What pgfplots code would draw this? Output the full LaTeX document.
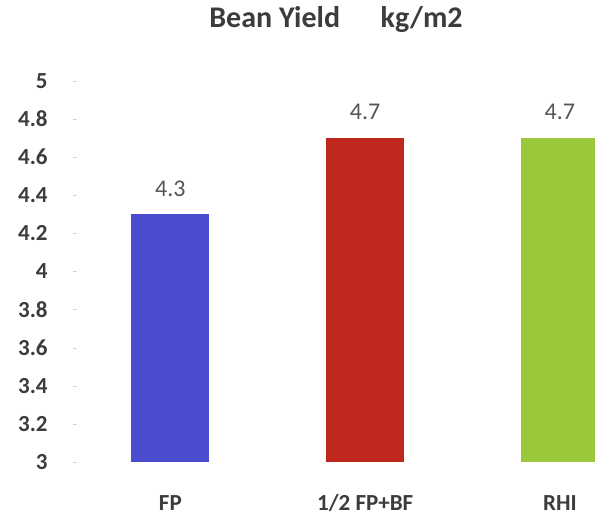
\documentclass[border=0pt]{standalone}
\usepackage{pgfplots}
\pgfplotsset{compat=1.18}
\usepackage{fontspec}
\setmainfont{Carlito}
\definecolor{cblue}{RGB}{76,76,208}
\definecolor{cred}{RGB}{190,40,30}
\definecolor{cgreen}{RGB}{154,200,58}
\definecolor{ctext}{RGB}{60,60,60}
\definecolor{cval}{RGB}{85,85,85}
\begin{document}
\begin{tikzpicture}
\begin{axis}[
  scale only axis,
  width=261pt, height=190.5pt,
  xmin=-0.5, xmax=2.18,
  ymin=3, ymax=5,
  /pgf/number format/assume math mode=true,
  ytick={3,3.2,...,5.01},
  yticklabels={3,3.2,3.4,3.6,3.8,4,4.2,4.4,4.6,4.8,5},
  xtick={0,1,2},
  xticklabels={FP,1/2 FP+BF,RHI},
  axis line style={draw=none},
  xtick style={draw=none},
  ytick style={draw=gray!35},
  ytick pos=left,
  major tick length=2pt,
  tick label style={font=\bfseries, text=ctext},
  yticklabel style={font=\fontsize{11.5}{13}\selectfont\bfseries, anchor=east, inner sep=0pt, xshift=-12.5pt},
  xticklabel style={font=\fontsize{11.5}{13}\selectfont\bfseries, anchor=center, inner sep=0pt, yshift=-18.5pt},
  ybar, bar width=39pt, bar shift=0pt,
  nodes near coords,
  every node near coord/.append style={font=\fontsize{12}{14}\selectfont, text=cval, anchor=center, yshift=13pt},
  title={Bean Yield\hspace{1.35em}kg/m2},
  title style={font=\fontsize{15}{17}\selectfont\bfseries, text=ctext, at={(0.5,1)}, anchor=center, inner sep=0pt, yshift=24.5pt, xshift=1pt},
  clip=true,
]
\addplot[fill=cblue, draw=none] coordinates {(0,4.3)};
\addplot[fill=cred, draw=none] coordinates {(1,4.7)};
\addplot[fill=cgreen, draw=none] coordinates {(2,4.7)};
\coordinate (sw) at (rel axis cs:0,0);
\coordinate (ne) at (rel axis cs:1,1);
\end{axis}
\pgfresetboundingbox
\path[use as bounding box] ([xshift=-36.5pt,yshift=-26.5pt]sw) rectangle ([yshift=40.5pt]ne);
\end{tikzpicture}
\end{document}
